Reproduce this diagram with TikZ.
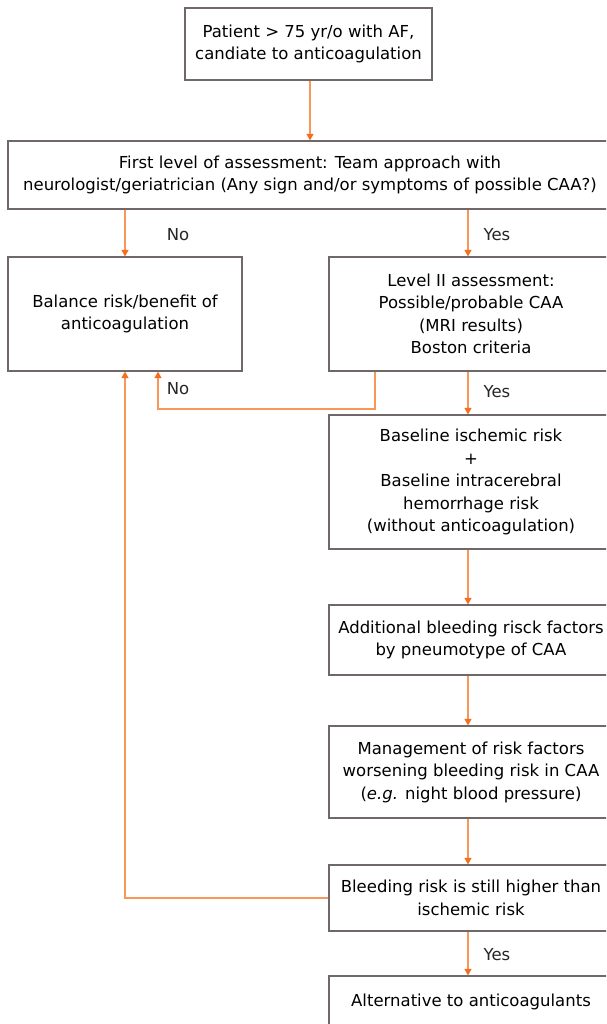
\documentclass[tikz,border=0pt]{standalone}
\usepackage{fontspec}
\setmainfont{DejaVu Sans}
\usetikzlibrary{arrows.meta}
\definecolor{boxgray}{RGB}{112,104,104}
\definecolor{arrorange}{RGB}{249,150,90}
\definecolor{tiporange}{RGB}{245,110,30}
\begin{document}
\begin{tikzpicture}[x=1pt,y=-1pt,
  box/.style={draw=boxgray,line width=1.2pt,align=center,inner sep=0pt,
    font=\fontsize{16.5}{22.5}\selectfont,text=black},
  lbl/.style={font=\fontsize{16.5}{22.5}\selectfont,text=black!85,inner sep=0pt},
  arr/.style={draw=arrorange,line width=1.1pt,-{Triangle[length=6.5pt,width=7pt,color=tiporange]}}]
\clip (0,0) rectangle (606,1024);
\fill[white] (0,0) rectangle (606,1024);
\node[box,minimum width=247,minimum height=72] (b1) at (308.5,44)
  {Patient > 75 yr/o with AF,\\candiate to anticoagulation};
\node[box,minimum width=604,minimum height=68] (b2) at (310,175)
  {First level of assessment: Team approach with\\neurologist/geriatrician (Any sign and/or symptoms of possible CAA?)};
\node[box,minimum width=234,minimum height=114] (b3) at (125,314)
  {Balance risk/benefit of\\anticoagulation};
\node[box,minimum width=284,minimum height=114] (b4) at (471,314)
  {Level II assessment:\\Possible/probable CAA\\(MRI results)\\Boston criteria};
\node[box,minimum width=284,minimum height=134] (b5) at (471,482)
  {Baseline ischemic risk\\+\\Baseline intracerebral\\hemorrhage risk\\(without anticoagulation)};
\node[box,minimum width=284,minimum height=70] (b6) at (471,640)
  {Additional bleeding risck factors\\by pneumotype of CAA};
\node[box,minimum width=284,minimum height=92] (b7) at (471,772)
  {Management of risk factors\\worsening bleeding risk in CAA\\(\textit{e.g.} night blood pressure)};
\node[box,minimum width=284,minimum height=66] (b8) at (471,898)
  {Bleeding risk is still higher than\\ischemic risk};
\node[box,minimum width=284,minimum height=52] (b9) at (471,1002)
  {Alternative to anticoagulants};
\coordinate (cx) at (468,0);
\coordinate (nx) at (375,0);
\coordinate (ny) at (158,409);
\draw[arr] (b1.south -| b2.north) -- (b2.north);
\draw[arr] (b3.north |- b2.south) -- (b3.north);
\draw[arr] (cx |- b2.south) -- (cx |- b4.north);
\draw[arr] (nx |- b4.south) |- (ny) -- (ny |- b3.south);
\draw[arr] (cx |- b4.south) -- (cx |- b5.north);
\draw[arr] (cx |- b5.south) -- (cx |- b6.north);
\draw[arr] (cx |- b6.south) -- (cx |- b7.north);
\draw[arr] (cx |- b7.south) -- (cx |- b8.north);
\draw[arr] (b8.west) -| (b3.south);
\draw[arr] (cx |- b8.south) -- (cx |- b9.north);
\node[lbl] (l1) at (178,235) {No};
\node[lbl] (l2) at (497,235) {Yes};
\node[lbl] (l3) at (178,389) {No};
\node[lbl] (l4) at (497,392) {Yes};
\node[lbl] (l5) at (497,955) {Yes};
\end{tikzpicture}
\end{document}
